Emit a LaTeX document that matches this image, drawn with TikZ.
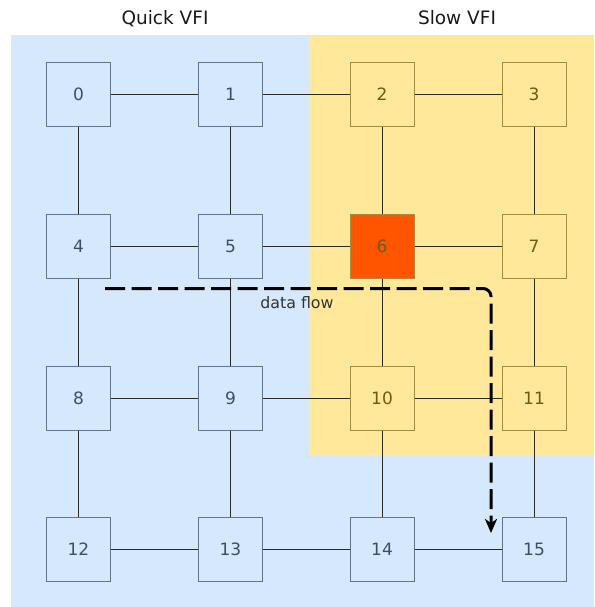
\documentclass[tikz,border=0pt]{standalone}
\usepackage{fontspec}
\setmainfont{DejaVu Sans}
\usetikzlibrary{arrows.meta}

\definecolor{quickbg}{HTML}{D5E8FC}
\definecolor{slowbg}{HTML}{FFE89A}
\definecolor{quickline}{HTML}{5E7590}
\definecolor{quicktext}{HTML}{3C4F66}
\definecolor{slowline}{HTML}{A38C3C}
\definecolor{slowtext}{HTML}{6E5A12}
\definecolor{hotcore}{HTML}{FF5500}
\definecolor{linkcol}{HTML}{2A2A2A}

\tikzset{
  core/.style={draw, rectangle, minimum width=64pt, minimum height=64pt,
    inner sep=0pt, line width=1pt, font=\fontsize{17}{17}\selectfont},
  quick/.style={core, fill=quickbg, draw=quickline, text=quicktext},
  slow/.style={core, fill=slowbg, draw=slowline, text=slowtext},
  hot/.style={core, fill=hotcore, draw=slowline, text=slowtext},
  link/.style={draw=linkcol, line width=0.9pt},
  title/.style={anchor=base, font=\fontsize{18.5}{18.5}\selectfont, text=black!90},
  flow/.style={line width=3pt, dash pattern=on 20pt off 6.5pt, rounded corners=8pt,
    -{Stealth[length=14pt, width=12pt, inset=4pt]}}
}

\begin{document}
\begin{tikzpicture}[x=1pt, y=-1pt]
  \useasboundingbox (0,0) rectangle (594,607);

  % voltage/frequency islands
  \fill[quickbg] (11,35) rectangle (594,607);
  \fill[slowbg] (309,35) rectangle (594,455.5);

  \node[title] (tq) at (165,25) {Quick VFI};
  \node[title] (ts) at (457,25) {Slow VFI};

  % cores of the 4x4 mesh
  \node[quick] (n0)  at (78.5,94.5)  {0};
  \node[quick] (n1)  at (230.5,94.5) {1};
  \node[slow]  (n2)  at (382,94.5)   {2};
  \node[slow]  (n3)  at (534,94.5)   {3};
  \node[quick] (n4)  at (78.5,246.5) {4};
  \node[quick] (n5)  at (230.5,246.5){5};
  \node[hot]   (n6)  at (382,246.5)  {6};
  \node[slow]  (n7)  at (534,246.5)  {7};
  \node[quick] (n8)  at (78.5,398)   {8};
  \node[quick] (n9)  at (230.5,398)  {9};
  \node[slow]  (n10) at (382,398)    {10};
  \node[slow]  (n11) at (534,398)    {11};
  \node[quick] (n12) at (78.5,549.5) {12};
  \node[quick] (n13) at (230.5,549.5){13};
  \node[quick] (n14) at (382,549.5)  {14};
  \node[quick] (n15) at (534,549.5)  {15};

  % mesh links
  \foreach \r in {0,4,8,12}{
    \pgfmathtruncatemacro{\a}{\r+1}
    \pgfmathtruncatemacro{\b}{\r+2}
    \pgfmathtruncatemacro{\c}{\r+3}
    \draw[link] (n\r) -- (n\a);
    \draw[link] (n\a) -- (n\b);
    \draw[link] (n\b) -- (n\c);
  }
  \foreach \col in {0,1,2,3}{
    \pgfmathtruncatemacro{\a}{\col+4}
    \pgfmathtruncatemacro{\b}{\col+8}
    \pgfmathtruncatemacro{\c}{\col+12}
    \draw[link] (n\col) -- (n\a);
    \draw[link] (n\a) -- (n\b);
    \draw[link] (n\b) -- (n\c);
  }

  % data flow path
  \coordinate (fs) at (105,288.5);
  \coordinate (fe) at (491,533);
  \draw[flow] (fs) -| (fe);
  \node[anchor=base, font=\fontsize{15.8}{15.8}\selectfont, text=black!80] (fl) at (297,308) {data flow};
\end{tikzpicture}
\end{document}
